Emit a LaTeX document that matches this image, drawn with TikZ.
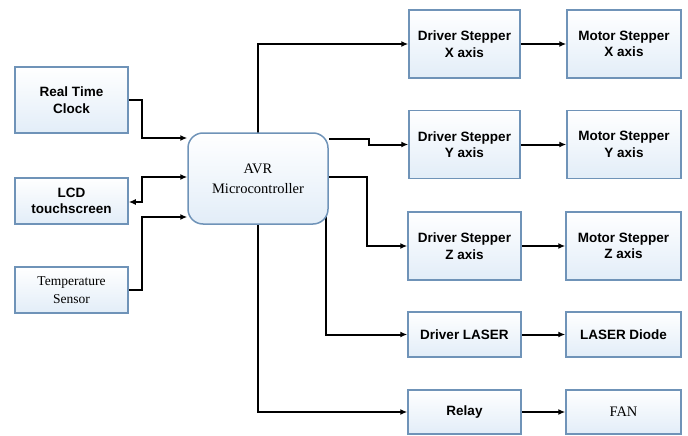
\documentclass[tikz,border=0pt]{standalone}
\usepackage{fontspec}
\setmainfont{Liberation Serif}
\setsansfont{Liberation Sans}
\usetikzlibrary{arrows.meta,backgrounds}
\definecolor{boxline}{HTML}{6F93B8}
\definecolor{boxfill}{HTML}{E2EDF8}
\tikzset{
  block/.style={draw=boxline, line width=1.5pt, top color=white, bottom color=boxfill,
    align=center, inner sep=1pt, font=\sffamily\bfseries\fontsize{13.5}{16.5}\selectfont},
  serifblock/.style={block, font=\rmfamily\fontsize{13.5}{18}\selectfont},
  arr/.style={line width=2pt, -{Latex[length=7pt,width=6pt]}},
  dblarr/.style={line width=2pt, {Latex[length=7pt,width=6pt]}-{Latex[length=7pt,width=6pt]}}
}
\begin{document}
\begin{tikzpicture}[x=1pt, y=-1pt]
        \useasboundingbox (0,0) rectangle (688,436);
        
        % left side
        \node[block, minimum width=113pt, minimum height=66pt] (rtc) at (71.5,100) {Real Time\\Clock};
        \node[block, minimum width=113pt, minimum height=46pt] (lcd) at (71.5,201) {LCD\\touchscreen};
        \node[serifblock, minimum width=113pt, minimum height=46pt] (temp) at (71.5,290) {Temperature\\Sensor};
        
        % controller
        \node[serifblock, rounded corners=15pt, minimum width=140pt, minimum height=91pt,
          font=\rmfamily\fontsize{14.5}{20}\selectfont] (avr) at (258,178.5) {AVR\\Microcontroller};
        
        % drivers
        \node[block, minimum width=111pt, minimum height=68pt] (drvx) at (464.5,44) {Driver Stepper\\X axis};
        \node[block, minimum width=111pt, minimum height=68pt] (drvy) at (464.5,144.5) {Driver Stepper\\Y axis};
        \node[block, minimum width=113pt, minimum height=68pt] (drvz) at (464.5,246) {Driver Stepper\\Z axis};
        \node[block, minimum width=113pt, minimum height=45pt] (drvl) at (464.5,334.5) {Driver LASER};
        \node[block, minimum width=113pt, minimum height=44pt] (relay) at (464.5,412) {Relay};
        
        % outputs
        \node[block, minimum width=114pt, minimum height=68pt] (motx) at (624,44) {Motor Stepper\\X axis};
        \node[block, minimum width=114pt, minimum height=68pt] (moty) at (624,144.5) {Motor Stepper\\Y axis};
        \node[block, minimum width=115pt, minimum height=68pt] (motz) at (623.5,246) {Motor Stepper\\Z axis};
        \node[block, minimum width=115pt, minimum height=45pt] (diode) at (623.5,334.5) {LASER Diode};
        \node[serifblock, minimum width=115pt, minimum height=44pt, font=\rmfamily\fontsize{14.5}{18}\selectfont] (fan) at (623.5,412) {FAN};
        
        \begin{scope}[on background layer]
        % inputs
        \draw[arr] (rtc.east) -- (142,100) |- (avr.west |- 0,138);
        \draw[dblarr] (avr.west |- 0,177) -| (142,202) -- (lcd.east |- 0,202);
        \draw[arr] (temp.east) -- (142,290) |- (avr.west |- 0,217);
        
        % controller to drivers
        \draw[arr] (avr.center) |- (drvx.west);
        \draw[arr] (avr.east |- 0,139) -- (369,139) |- (drvy.west);
        \draw[arr] (avr.east |- 0,177) -- (367,177) |- (drvz.west);
        \draw[arr] (avr.center -| 326,0) |- (drvl.west);
        \draw[arr] (avr.center) |- (relay.west);
        
        % drivers to outputs
        \foreach \a/\b in {drvx/motx, drvy/moty, drvz/motz, drvl/diode, relay/fan}
          \draw[arr] (\a.east) -- (\b.west);
        \end{scope}
    \end{tikzpicture}
\end{document}
